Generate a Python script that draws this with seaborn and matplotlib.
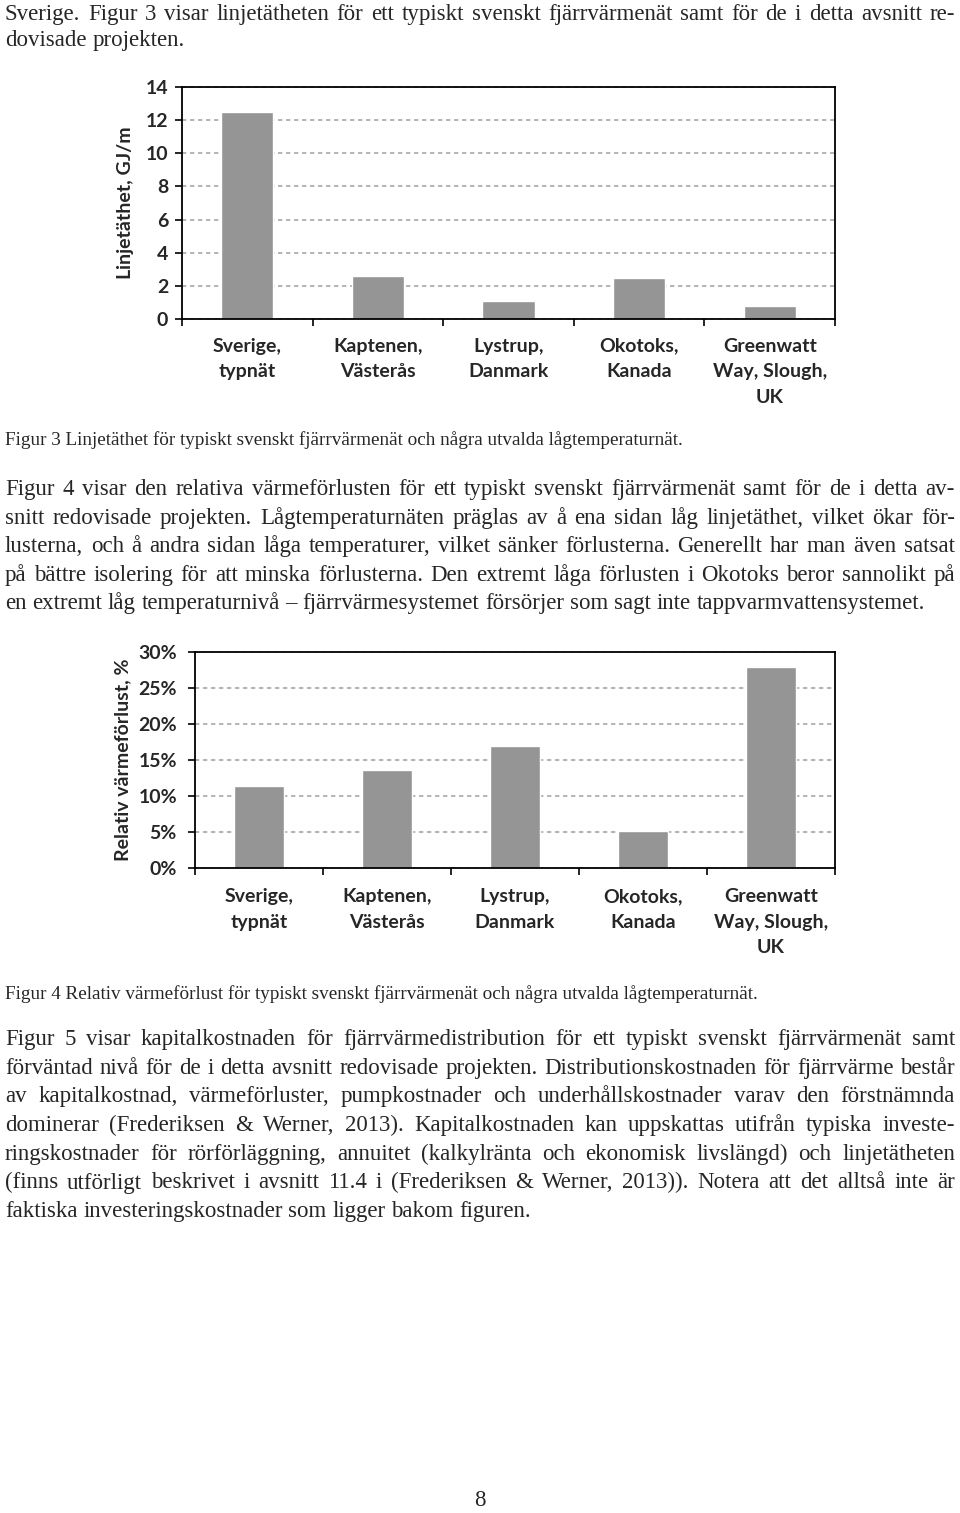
import numpy as np
import pandas as pd
import matplotlib
matplotlib.use("Agg")
import matplotlib.pyplot as plt
import seaborn as sns
from matplotlib.ticker import PercentFormatter

# ---------------- data ----------------
categories = ["Sverige,\ntypnät", "Kaptenen,\nVästerås", "Lystrup,\nDanmark",
              "Okotoks,\nKanada", "Greenwatt\nWay, Slough,\nUK"]
linjetathet = [12.5, 2.6, 1.1, 2.45, 0.78]          # GJ/m
varmeforlust = [11.4, 13.6, 17.0, 5.2, 27.9]        # %

text_top = [
    "Sverige. Figur 3 visar linjetätheten för ett typiskt svenskt fjärrvärmenät samt för de i detta avsnitt re-",
    "dovisade projekten.",
]
caption3 = "Figur 3 Linjetäthet för typiskt svenskt fjärrvärmenät och några utvalda lågtemperaturnät."
para4 = [
    "Figur 4 visar den relativa värmeförlusten för ett typiskt svenskt fjärrvärmenät samt för de i detta av-",
    "snitt redovisade projekten. Lågtemperaturnäten präglas av å ena sidan låg linjetäthet, vilket ökar för-",
    "lusterna, och å andra sidan låga temperaturer, vilket sänker förlusterna. Generellt har man även satsat",
    "på bättre isolering för att minska förlusterna. Den extremt låga förlusten i Okotoks beror sannolikt på",
    "en extremt låg temperaturnivå – fjärrvärmesystemet försörjer som sagt inte tappvarmvattensystemet.",
]
caption4 = "Figur 4 Relativ värmeförlust för typiskt svenskt fjärrvärmenät och några utvalda lågtemperaturnät."
para5 = [
    "Figur 5 visar kapitalkostnaden för fjärrvärmedistribution för ett typiskt svenskt fjärrvärmenät samt",
    "förväntad nivå för de i detta avsnitt redovisade projekten. Distributionskostnaden för fjärrvärme består",
    "av kapitalkostnad, värmeförluster, pumpkostnader och underhållskostnader varav den förstnämnda",
    "dominerar (Frederiksen & Werner, 2013). Kapitalkostnaden kan uppskattas utifrån typiska investe-",
    "ringskostnader för rörförläggning, annuitet (kalkylränta och ekonomisk livslängd) och linjetätheten",
    "(finns utförligt beskrivet i avsnitt 11.4 i (Frederiksen & Werner, 2013)). Notera att det alltså inte är",
    "faktiska investeringskostnader som ligger bakom figuren.",
]
page_no = "8"

# ---------------- style ----------------
sns.set_style("ticks")
plt.rcParams["font.family"] = ["Lato", "DejaVu Sans"]
W, H = 960, 1513
fig = plt.figure(figsize=(W / 100, H / 100), dpi=100)

BAR = "#959595"
GRID = "#a8a8a8"
CHART_FONT = dict(family=["Lato", "DejaVu Sans"], weight="bold")
FS = 14


def style_axes(ax, ylabel, ymax, step, labx, ypad, xpad):
    ax.set_xlim(-0.5, 4.5)
    ax.set_ylim(0, ymax)
    ax.set_yticks(np.arange(0, ymax + 0.1, step))
    ax.set_axisbelow(True)
    ax.yaxis.grid(True, color=GRID, lw=1.2, linestyle=(0, (2.6, 2.2)))
    for s in ax.spines.values():
        s.set_visible(True)
        s.set_color("black")
        s.set_linewidth(1.3)
    ax.set_xticks(range(len(categories)))
    ax.set_xticklabels(categories, fontsize=FS, linespacing=1.62, **CHART_FONT)
    ax.set_xticks(np.arange(-0.5, len(categories), 1), minor=True)
    ax.tick_params(axis="x", which="major", length=0, pad=xpad)
    ax.tick_params(axis="x", which="minor", length=5, width=1.2, direction="out", color="black")
    ax.tick_params(axis="y", which="major", length=5, width=1.2, direction="out", color="black", pad=ypad)
    for t in ax.get_yticklabels():
        t.set_fontsize(FS)
        t.set_fontweight("bold")
    ax.set_xlabel("")
    ax.set_ylabel(ylabel, fontsize=FS, **CHART_FONT)
    ax.yaxis.set_label_coords(labx, 0.5)


# Chart 1
ax1 = fig.add_axes([182 / W, 1 - 319 / H, (835 - 182) / W, (319 - 87) / H])
df1 = pd.DataFrame({"kat": categories, "val": linjetathet})
sns.barplot(data=df1, x="kat", y="val", color=BAR, width=0.4, saturation=1, ax=ax1)
style_axes(ax1, "Linjetäthet, GJ/m", 14, 2, -0.0735, 5, 13.5)

# Chart 2
ax2 = fig.add_axes([195 / W, 1 - 868 / H, (835 - 195) / W, (868 - 652) / H])
df2 = pd.DataFrame({"kat": categories, "val": varmeforlust})
sns.barplot(data=df2, x="kat", y="val", color=BAR, width=0.39, saturation=1, ax=ax2)
style_axes(ax2, "Relativ värmeförlust, %", 30, 5, -0.1, 8, 14.5)
ax2.yaxis.set_major_formatter(PercentFormatter(decimals=0))

# ---------------- body text ----------------
SERIF = ["Liberation Serif", "DejaVu Serif"]
renderer = fig.canvas.get_renderer()
TS = 16.5
BASE_OFF = 6  # px from visual line centre to baseline


def justify(line, ypx, size, x0=5, x1=955, last=False):
    words = line.split(" ")
    yb = 1 - (ypx + BASE_OFF) / H
    ts = [fig.text(0, yb, w, fontsize=size, family=SERIF, va="baseline", ha="left")
          for w in words]
    widths = [t.get_window_extent(renderer).width for t in ts]
    space = size * 100 / 72 * 0.25
    if last or len(words) == 1:
        gap = space
    else:
        gap = (x1 - x0 - sum(widths)) / (len(words) - 1)
    x = x0
    for t, w in zip(ts, widths):
        t.set_x(x / W)
        x += w + gap


def paragraph(lines, y0, dy, size):
    for i, ln in enumerate(lines):
        justify(ln, y0 + i * dy, size, last=(i == len(lines) - 1))


paragraph(text_top, 14, 26, TS)
fig.text(5 / W, 1 - 445 / H, caption3, fontsize=13.8, family=SERIF, va="baseline", ha="left")
paragraph(para4, 489, 28.6, TS)
fig.text(5 / W, 1 - 999 / H, caption4, fontsize=13.8, family=SERIF, va="baseline", ha="left")
paragraph(para5, 1039, 28.7, TS)
fig.text(480 / W, 1 - 1506 / H, page_no, fontsize=TS, family=SERIF, va="baseline", ha="center")

fig.savefig("out.png", dpi=100)
